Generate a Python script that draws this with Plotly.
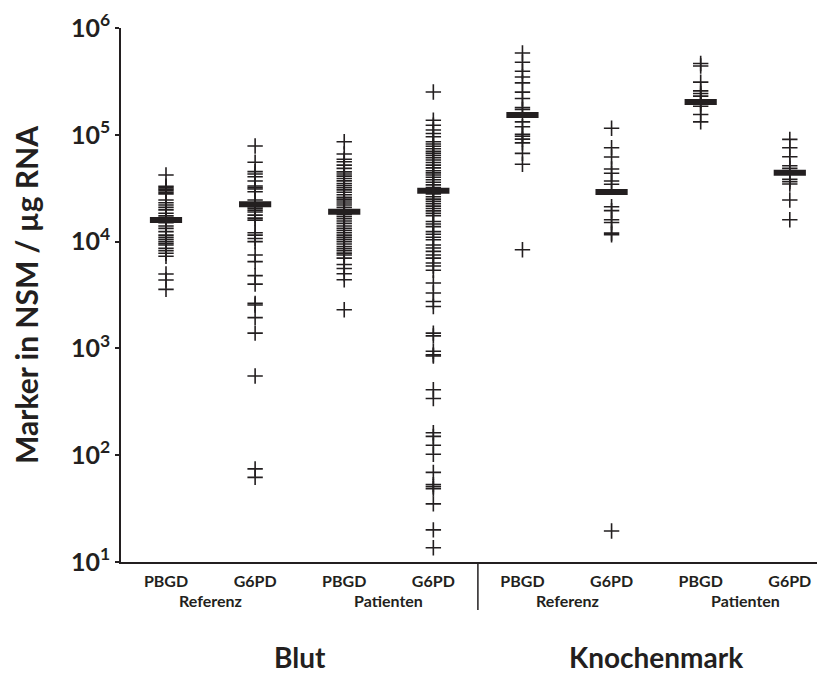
import plotly.graph_objects as go

# ---- data (values in NSM / µg RNA) ----
marker_names = ["PBGD", "G6PD", "PBGD", "G6PD", "PBGD", "G6PD", "PBGD", "G6PD"]
group_labels = ["Referenz", "Patienten", "Referenz", "Patienten"]
tissue_labels = ["Blut", "Knochenmark"]
ytick_vals = [1e1, 1e2, 1e3, 1e4, 1e5, 1e6]
ytick_text = ["10<sup>1</sup>", "10<sup>2</sup>", "10<sup>3</sup>",
              "10<sup>4</sup>", "10<sup>5</sup>", "10<sup>6</sup>"]

blut_ref_pbgd = [42000, 33000, 32000, 31000, 30000, 29000, 28000, 24500, 23100,
                 22000, 20900, 19800, 18400, 17400, 16500, 15000, 14000, 13300,
                 12400, 11500, 11000, 10500, 10000, 9600, 9300, 8650, 8200,
                 7770, 7300, 4980, 4370, 3570]
blut_ref_g6pd = [78500, 55300, 45200, 43000, 40500, 36900, 33200, 32000, 31100,
                 29300, 24500, 23000, 21200, 20500, 19700, 18900, 17700, 16600,
                 15900, 12100, 11500, 10700, 10000, 7500, 6500, 4800, 4000,
                 2640, 2550, 1940, 1390, 551, 74.5, 62]
blut_pat_pbgd = [86000, 66000, 59000, 56000, 52000, 48500,
                 45000, 43000, 41000, 39000, 37000, 35000, 33500, 32000, 30500,
                 29000, 27500, 26000, 25000, 24000, 23000, 22000, 21000, 20000,
                 19000, 18000, 17200, 16400, 15600, 14800, 14000, 13300, 12700,
                 12100, 11500, 11000, 10500, 10000, 9500, 9000, 8600, 8200,
                 7800, 7500, 7000, 6100, 5600, 5000, 4400, 2300]
blut_pat_g6pd = [252000, 137000, 123000, 111000, 103000, 96000,
                 86000, 82000, 78000, 74000, 70000, 67000, 64000, 61000, 58000,
                 55000, 52000, 49000, 46000, 44000, 42000, 40000, 38000, 36000,
                 34000, 32000, 30000, 28000, 26300, 25000, 23800, 22600, 21500,
                 20400, 19400, 18400, 17500, 15400, 14600, 13800, 12400, 11700,
                 11000, 10400, 9300, 8700, 8100, 7500, 7000, 6300, 5900, 5400,
                 4100, 3300, 2750, 2470, 1390, 1310, 940, 870, 850, 410, 340,
                 162, 150, 124, 102, 69, 53, 50.6, 48.5, 35, 20, 13.6]
km_ref_pbgd = [583000, 478000, 394000, 348000, 306000, 251000, 219000, 180000,
               173000, 132000, 119000, 101000, 97000, 91000, 84000, 67000,
               53000, 8400]
km_ref_g6pd = [115000, 75600, 62000, 47800, 43600, 36900, 34400, 21200, 19500,
               16000, 15100, 12000, 11600, 19.5]
km_pat_pbgd = [465000, 441000, 311000, 258000, 244000, 230000, 210000, 195000,
               185000, 155000, 132000]
km_pat_g6pd = [90600, 75600, 62300, 51300, 48500, 38300, 36400, 34600, 24500,
               16000]
medians = [15900, 22400, 19000, 30000, 153000, 29100, 203000, 44100]

columns = [blut_ref_pbgd, blut_ref_g6pd, blut_pat_pbgd, blut_pat_g6pd,
           km_ref_pbgd, km_ref_g6pd, km_pat_pbgd, km_pat_g6pd]

INK = "#231f20"
FONT = "Lato"

fig = go.Figure()
for i, vals in enumerate(columns):
    fig.add_trace(go.Scatter(
        x=[i] * len(vals), y=vals, mode="markers", showlegend=False,
        marker=dict(symbol="cross-thin", size=11, color=INK,
                    line=dict(color=INK, width=1.6))))
fig.add_trace(go.Scatter(
    x=list(range(len(medians))), y=medians, mode="markers", showlegend=False,
    marker=dict(symbol="line-ew", size=23, color=INK,
                line=dict(color=INK, width=6))))

fig.update_xaxes(range=[-0.505, 7.395], tickvals=list(range(8)),
                 ticktext=marker_names, showline=True, linecolor=INK,
                 linewidth=1.5, showgrid=False, zeroline=False, ticks="",
                 automargin=False, ticklabelstandoff=4,
                 tickfont=dict(family=FONT, size=16, color=INK, weight=700))
fig.update_yaxes(type="log", range=[1, 6], tickvals=ytick_vals,
                 ticktext=ytick_text, showline=True, linecolor=INK,
                 linewidth=1.5, showgrid=False, zeroline=False,
                 ticks="outside", ticklen=4, tickwidth=1.5, tickcolor=INK,
                 automargin=False,
                 tickfont=dict(family=FONT, size=25, color=INK, weight=700))

# group labels
for k, lab in enumerate(group_labels):
    fig.add_annotation(x=2 * k + 0.5, xref="x", y=-0.0712, yref="paper",
                       text=lab, showarrow=False, yanchor="middle",
                       font=dict(family=FONT, size=16, color=INK, weight=700))
for k, lab in enumerate(tissue_labels):
    fig.add_annotation(x=4 * k + 1.5, xref="x", y=-0.178, yref="paper",
                       text=lab, showarrow=False, yanchor="middle",
                       font=dict(family=FONT, size=28, color=INK, weight=700))
fig.add_annotation(x=-0.135, xref="paper", y=0.5, yref="paper",
                   text="Marker in NSM / \u00b5g RNA", textangle=-90,
                   showarrow=False, xanchor="center", yanchor="middle",
                   font=dict(family=FONT, size=30, color=INK, weight=700))
fig.add_shape(type="line", x0=3.5, x1=3.5, xref="x", y0=0, y1=-0.09,
              yref="paper", line=dict(color=INK, width=1.5))

# the page body adds an 8px offset, so the figure is 8px smaller each way
fig.update_layout(width=817, height=667, margin=dict(l=113, r=0, t=20, b=113),
                  plot_bgcolor="white", paper_bgcolor="white")
fig.write_html("out.html")
